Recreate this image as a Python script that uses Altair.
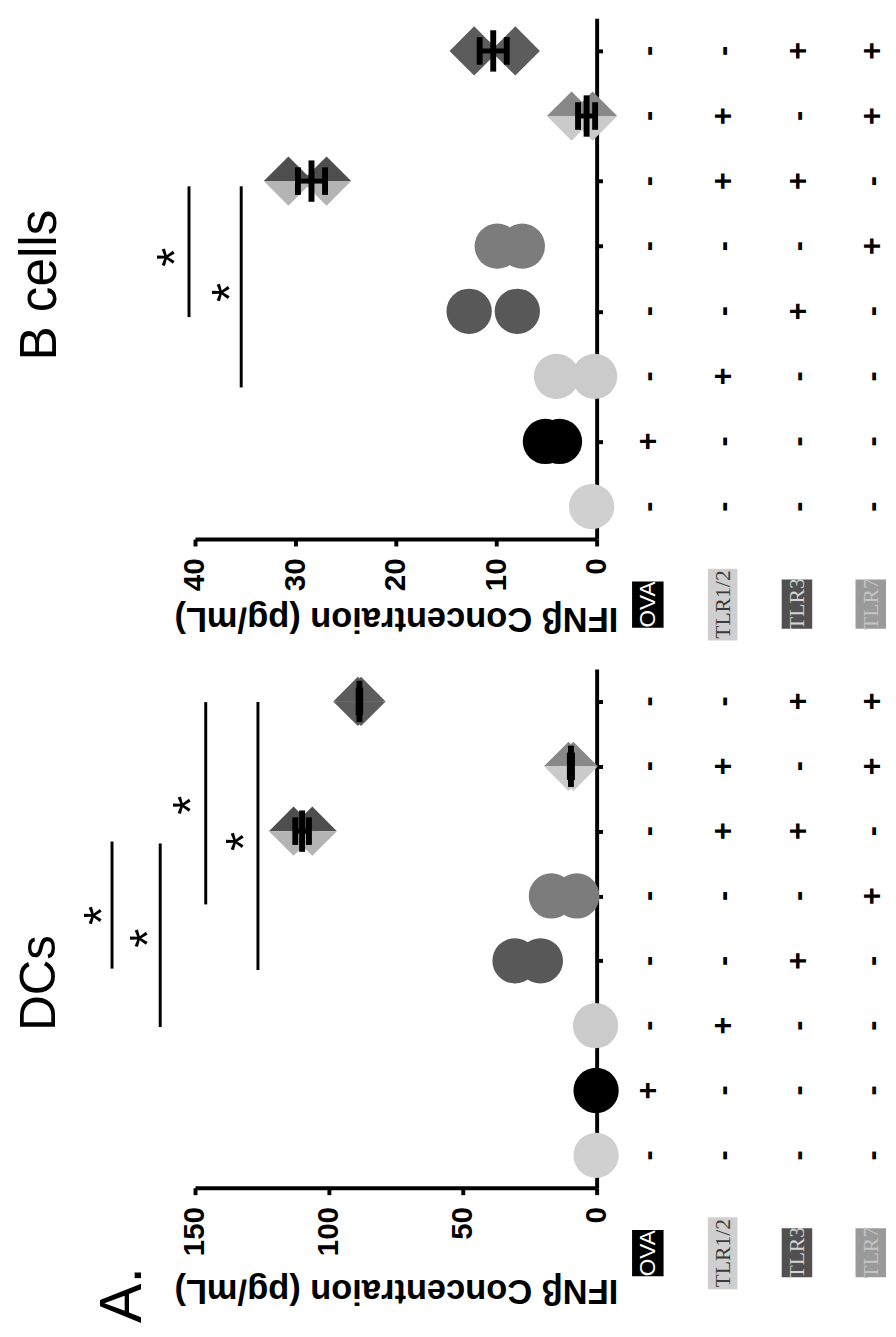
import altair as alt
import pandas as pd

# ---------------- data ----------------
GROUPS = [1, 2, 3, 4, 5, 6, 7, 8]
ROW_NAMES = ["OVA", "TLR1/2", "TLR3", "TLR7"]
OVA = ["-", "+", "-", "-", "-", "-", "-", "-"]
TLR12 = ["-", "-", "+", "-", "-", "+", "+", "-"]
TLR3 = ["-", "-", "-", "+", "-", "+", "-", "+"]
TLR7 = ["-", "-", "-", "-", "+", "-", "+", "+"]
AXIS_TITLE = "IFNβ Concentraion (pg/mL)"

# DCs panel
DC_TICKS = [0, 50, 100, 150]
DC_PT_GROUP = [1, 2, 3, 4, 4, 5, 5, 6, 6, 7, 7, 8, 8]
DC_PT_VALUE = [0.2, 0.2, 0.4, 30.5, 21.0, 16.9, 7.4, 113.2, 106.2, 10.5, 8.7, 89.2, 88.0]
DC_BAR_GROUP = [6, 7, 8]
DC_MEAN = [110.0, 9.6, 88.6]
DC_SD = [2.55, 0.4, 0.3]
DC_SIG_VALUE = [181, 163, 146, 126.5]
DC_SIG_FROM = [5.84, 5.81, 7.99, 7.99]
DC_SIG_TO = [3.88, 2.98, 4.87, 3.86]
DC_STAR_VALUE = [189, 171.7, 155.9, 136]
DC_STAR_GROUP = [4.70, 4.35, 6.40, 5.84]

# B cells panel
B_TICKS = [0, 10, 20, 30, 40]
B_PT_GROUP = [1, 2, 2, 3, 3, 4, 4, 5, 5, 6, 6, 7, 7, 8, 8]
B_PT_VALUE = [0.5, 5.1, 3.7, 4.0, 0.2, 12.7, 7.9, 9.9, 7.4, 30.7, 26.9, 2.5, 0.4, 12.2, 8.1]
B_BAR_GROUP = [6, 7, 8]
B_MEAN = [28.4, 1.0, 10.3]
B_SD = [1.35, 0.85, 1.35]
B_SIG_VALUE = [40.6, 35.4]
B_SIG_FROM = [5.92, 5.92]
B_SIG_TO = [3.91, 2.83]
B_STAR_VALUE = [43.1, 37.7]
B_STAR_GROUP = [4.83, 4.29]

# ---------------- styles / layout ----------------
FONT = "Liberation Sans"
SERIF = "Liberation Serif"
W = 408
CIRCLE_FILL = {1: "#d0d0d0", 2: "#000000", 3: "#cbcbcb", 4: "#585858", 5: "#7c7c7c"}
DIA_TOP = {6: "#4e4e4e", 7: "#888888", 8: "#5c5c5c"}
DIA_BOT = {6: "#b4b4b4", 7: "#cacaca", 8: "#5c5c5c"}
TOP_HALF = "M-1,0L0,-1L1,0Z"
BOT_HALF = "M-1,0L1,0L0,1Z"
VBAR = "M0,-1L0,1"
COL_X = [460, 537, 613, 688]
BOX_X0 = [444, 521, 596, 671]
BOX_X1 = [476, 551, 627, 702]
BOX_Y0 = [43, 30, 41, 41]
BOX_Y1 = [90, 103, 91, 91]
BOX_FILL = ["#000000", "#cfcfcf", "#505050", "#9a9a9a"]
BOX_TEXT = ["#ffffff", "#3a3a3a", "#d4d4d4", "#c4c4c4"]
BOX_FONT = [FONT, SERIF, SERIF, SERIF]


def one_row():
    return pd.DataFrame({"k": [0]})


def panel(vmax, ticks, height, pt_group, pt_value, bar_group, mean, sd,
          sig_val, sig_from, sig_to, star_val, star_grp, title_y, labels):
    xs = alt.Scale(domain=[0, vmax], reverse=True, nice=False, zero=False)
    ys = alt.Scale(domain=[0.5, 8.5], nice=False, zero=False)
    xaxis = alt.Axis(
        values=ticks, orient="bottom", title=AXIS_TITLE, format="d",
        labelAngle=270, labelFont=FONT, labelFontSize=30, labelFontWeight="bold",
        labelColor="black", labelPadding=12, labelOverlap=False, labelFlush=False,
        tickSize=7, tickWidth=4, tickColor="black", domainWidth=4, domainColor="black",
        grid=False, titleAngle=180, titleFont=FONT, titleFontSize=35,
        titleFontWeight="bold", titleColor="black", titleBaseline="middle",
        titleAlign="center", titleX=W / 2, titleY=title_y)
    yaxis = alt.Axis(values=GROUPS, orient="right", labels=False, title=None,
                     tickSize=6, tickWidth=4, tickColor="black", domainWidth=4,
                     domainColor="black", grid=False)

    def X(field):
        return alt.X(field, scale=xs, axis=xaxis)

    def Y(field):
        return alt.Y(field, scale=ys, axis=yaxis)

    pts = pd.DataFrame({"group": pt_group, "value": pt_value})
    pts["circ"] = pts["group"].map(CIRCLE_FILL)
    pts["top"] = pts["group"].map(DIA_TOP)
    pts["bot"] = pts["group"].map(DIA_BOT)
    base = alt.Chart(pts)

    circles = base.transform_filter("datum.group <= 5").mark_point(
        shape="circle", filled=True, opacity=1, size=46 ** 2, strokeWidth=0
    ).encode(x=X("value:Q"), y=Y("group:Q"), fill=alt.Fill("circ:N", scale=None))
    d_top = base.transform_filter("datum.group >= 6").mark_point(
        shape=TOP_HALF, filled=True, opacity=1, size=50 ** 2, strokeWidth=0
    ).encode(x=X("value:Q"), y=Y("group:Q"), fill=alt.Fill("top:N", scale=None))
    d_bot = base.transform_filter("datum.group >= 6").mark_point(
        shape=BOT_HALF, filled=True, opacity=1, size=50 ** 2, strokeWidth=0
    ).encode(x=X("value:Q"), y=Y("group:Q"), fill=alt.Fill("bot:N", scale=None))

    bars = pd.DataFrame({"group": bar_group, "mean": mean, "sd": sd})
    bbase = alt.Chart(bars).transform_calculate(
        lo="datum.mean - datum.sd", hi="datum.mean + datum.sd")
    conn = bbase.mark_rule(color="black", strokeWidth=5).encode(
        x=X("lo:Q"), x2="hi:Q", y=Y("group:Q"))
    mbar = bbase.mark_point(shape=VBAR, filled=False, opacity=1, size=42 ** 2,
                            strokeWidth=6, color="black").encode(
        x=X("mean:Q"), y=Y("group:Q"))
    caps = bbase.transform_fold(["lo", "hi"], as_=["end", "pos"]).mark_point(
        shape=VBAR, filled=False, opacity=1, size=28 ** 2, strokeWidth=6,
        color="black").encode(x=X("pos:Q"), y=Y("group:Q"))

    sig = pd.DataFrame({"value": sig_val, "g1": sig_from, "g2": sig_to})
    sig_lines = alt.Chart(sig).mark_rule(color="black", strokeWidth=3).encode(
        x=X("value:Q"), y=Y("g1:Q"), y2="g2:Q")
    stars = alt.Chart(pd.DataFrame({"value": star_val, "group": star_grp})).mark_text(
        text="*", font=FONT, fontSize=50, angle=270, align="center",
        baseline="alphabetic", dy=29, color="black").encode(
        x=X("value:Q"), y=Y("group:Q"))

    layers = [circles, d_top, d_bot, conn, mbar, caps, sig_lines, stars]

    # +/- table, one layer per treatment row
    for ri, signs in enumerate([OVA, TLR12, TLR3, TLR7]):
        df = pd.DataFrame({"group": GROUPS, "sign": signs})
        layers.append(alt.Chart(df).mark_text(
            font=FONT, fontSize=31, fontWeight="bold", angle=270, align="center",
            baseline="alphabetic", dy=10, color="black").encode(
            x=alt.value(COL_X[ri]), y=Y("group:Q"), text="sign:N"))

    # treatment label boxes
    for i, name in enumerate(ROW_NAMES):
        y0 = height + BOX_Y0[i]
        y1 = height + BOX_Y1[i]
        layers.append(alt.Chart(one_row()).mark_rect(color=BOX_FILL[i]).encode(
            x=alt.value(BOX_X0[i]), x2=alt.value(BOX_X1[i]),
            y=alt.value(y0), y2=alt.value(y1)))
        layers.append(alt.Chart(one_row()).mark_text(
            text=name, font=BOX_FONT[i], fontSize=23 if i == 0 else 22, angle=270,
            align="center", baseline="middle", color=BOX_TEXT[i]).encode(
            x=alt.value((BOX_X0[i] + BOX_X1[i]) / 2), y=alt.value((y0 + y1) / 2)))

    for text, x, y, size in labels:
        layers.append(alt.Chart(one_row()).mark_text(
            text=text, font=FONT, fontSize=size, angle=270, align="center",
            baseline="middle", color="black").encode(x=alt.value(x), y=alt.value(y)))

    return alt.layer(*layers).properties(width=W, height=height)


H_B = 529
H_D = 527
bcells = panel(40, B_TICKS, H_B, B_PT_GROUP, B_PT_VALUE, B_BAR_GROUP, B_MEAN, B_SD,
               B_SIG_VALUE, B_SIG_FROM, B_SIG_TO, B_STAR_VALUE, B_STAR_GROUP, 81,
               [("B cells", -157, 271, 52)])
dcs = panel(150, DC_TICKS, H_D, DC_PT_GROUP, DC_PT_VALUE, DC_BAR_GROUP, DC_MEAN, DC_SD,
            DC_SIG_VALUE, DC_SIG_FROM, DC_SIG_TO, DC_STAR_VALUE, DC_STAR_GROUP, 104,
            [("DCs", -157, 319, 50), ("A.", -73, 636, 60)])

chart = alt.vconcat(bcells, dcs, spacing=132, bounds="flush").configure_view(
    stroke=None).properties(padding={"left": 7, "top": 0, "right": 0, "bottom": 0})

chart.save("out.html", embed_options={"renderer": "svg", "actions": False})
